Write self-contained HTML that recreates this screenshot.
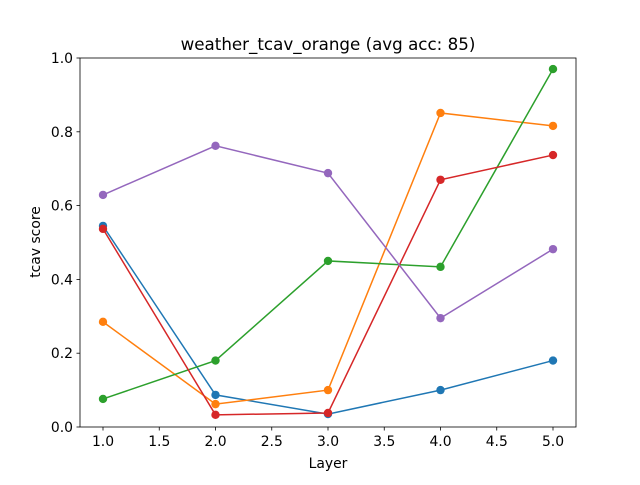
<!DOCTYPE html>
<html><head><meta charset="utf-8"><style>
body{margin:0;background:#fff}
svg{font-family:"DejaVu Sans","Liberation Sans",sans-serif}
</style></head><body>
<svg id="chart" width="640" height="480" viewBox="0 0 640 480">
<rect width="640" height="480" fill="#fff"/>
<g id="plot"></g>
</svg>
<script>
const layers=[1,2,3,4,5];
const blueVals=[0.545,0.087,0.035,0.10,0.18];
const orangeVals=[0.285,0.062,0.10,0.851,0.816];
const greenVals=[0.076,0.18,0.45,0.434,0.97];
const redVals=[0.537,0.033,0.038,0.67,0.737];
const purpleVals=[0.629,0.762,0.688,0.295,0.482];
const xTicks=[1.0,1.5,2.0,2.5,3.0,3.5,4.0,4.5,5.0];
const yTicks=[0.0,0.2,0.4,0.6,0.8,1.0];
const seriesList=[["blue",blueVals,"#1f77b4"],["orange",orangeVals,"#ff7f0e"],["green",greenVals,"#2ca02c"],["red",redVals,"#d62728"],["purple",purpleVals,"#9467bd"]];
const L=80,R=576,T=58,B=427;
const xs=v=>103+(v-1)*112.5;
const ys=v=>B-v*(B-T);
const NS="http://www.w3.org/2000/svg";
const g=document.getElementById('plot');
function mk(t,a,p){const e=document.createElementNS(NS,t);for(const k in a)e.setAttribute(k,a[k]);(p||g).appendChild(e);return e;}
xTicks.forEach(v=>{const x=xs(v);
const t=mk('line',{x1:x,x2:x,y1:B,y2:B+3.5,stroke:'#000','stroke-width':0.8});


const l=mk('text',{x:x,y:B+19,'font-size':13.9,'text-anchor':'middle'});l.textContent=v.toFixed(1);

});
yTicks.forEach(v=>{const y=ys(v);
const t=mk('line',{x1:L-3.5,x2:L,y1:y,y2:y,stroke:'#000','stroke-width':0.8});


const l=mk('text',{x:L-7,y:y+5,'font-size':13.9,'text-anchor':'end'});l.textContent=v.toFixed(1);

});
seriesList.forEach(([n,vals,c])=>{
const pts=vals.map((v,i)=>xs(layers[i])+','+ys(v)).join(' ');
const pl=mk('polyline',{points:pts,fill:'none',stroke:c,'stroke-width':1.5});


vals.forEach((v,i)=>{const d=mk('circle',{cx:xs(layers[i]),cy:ys(v),r:4.2,fill:c});

});
});
const fr=mk('rect',{x:L,y:T,width:R-L,height:B-T,fill:'none',stroke:'#000','stroke-width':0.8});


const ti=mk('text',{x:(L+R)/2,y:50,'font-size':16.7,'text-anchor':'middle'});ti.textContent='weather_tcav_orange (avg acc: 85)';


const xl=mk('text',{x:(L+R)/2,y:468,'font-size':13.9,'text-anchor':'middle'});xl.textContent='Layer';


const yl=mk('text',{x:0,y:0,'font-size':13.9,'text-anchor':'middle',transform:'translate(40,242) rotate(-90)'});yl.textContent='tcav score';


</script>
</body></html>
